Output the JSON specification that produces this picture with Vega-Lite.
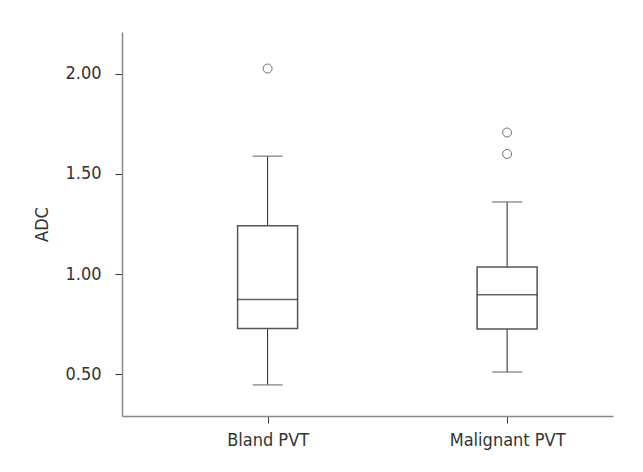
{
  "$schema": "https://vega.github.io/schema/vega-lite/v6.json",
  "width": 491,
  "height": 384,
  "autosize": "none",
  "padding": {"left": 122, "top": 32, "right": 30, "bottom": 56},
  "background": "white",
  "config": {
    "view": {"stroke": null},
    "font": "DejaVu Sans Condensed, DejaVu Sans, sans-serif",
    "axis": {
      "labelFont": "DejaVu Sans Condensed, DejaVu Sans, sans-serif",
      "titleFont": "DejaVu Sans Condensed, DejaVu Sans, sans-serif",
      "labelFontSize": 18,
      "titleFontSize": 18,
      "titleFontWeight": "normal",
      "labelColor": "#333",
      "titleColor": "#333",
      "domainColor": "#888",
      "domainWidth": 1.5,
      "tickColor": "#333",
      "tickWidth": 1,
      "tickSize": 7,
      "grid": false
    }
  },
  "datasets": {
    "boxes": [
      {"group": "Bland PVT", "lower": 0.448, "q1": 0.729, "median": 0.874, "q3": 1.241, "upper": 1.588},
      {"group": "Malignant PVT", "lower": 0.512, "q1": 0.727, "median": 0.897, "q3": 1.036, "upper": 1.36}
    ],
    "outliers": [
      {"group": "Bland PVT", "value": 2.025},
      {"group": "Malignant PVT", "value": 1.706},
      {"group": "Malignant PVT", "value": 1.599}
    ]
  },
  "encoding": {
    "x": {
      "field": "group",
      "type": "nominal",
      "scale": {"type": "point", "padding": 0.525, "align": 0.579},
      "axis": {"title": null, "labelAngle": 0, "labelPadding": 8}
    }
  },
  "layer": [
    {
      "data": {"name": "boxes"},
      "mark": {"type": "rule", "color": "#222", "strokeWidth": 1},
      "encoding": {
        "y": {
          "field": "lower",
          "type": "quantitative",
          "scale": {"domain": [0.293, 2.207], "nice": false, "zero": false},
          "axis": {"title": "ADC", "values": [0.5, 1, 1.5, 2], "format": ".2f", "labelPadding": 14, "titlePadding": 13}
        },
        "y2": {"field": "upper"}
      }
    },
    {
      "data": {"name": "boxes"},
      "mark": {"type": "bar", "size": 60, "fill": "white", "stroke": "#555", "strokeWidth": 1.5},
      "encoding": {
        "y": {"field": "q1", "type": "quantitative"},
        "y2": {"field": "q3"}
      }
    },
    {
      "data": {"name": "boxes"},
      "mark": {"type": "tick", "size": 60, "thickness": 1.5, "color": "#222"},
      "encoding": {"y": {"field": "median", "type": "quantitative"}}
    },
    {
      "data": {"name": "boxes"},
      "mark": {"type": "tick", "size": 30, "thickness": 1.5, "color": "#666"},
      "encoding": {"y": {"field": "lower", "type": "quantitative"}}
    },
    {
      "data": {"name": "boxes"},
      "mark": {"type": "tick", "size": 30, "thickness": 1.5, "color": "#666"},
      "encoding": {"y": {"field": "upper", "type": "quantitative"}}
    },
    {
      "data": {"name": "outliers"},
      "mark": {"type": "point", "shape": "circle", "size": 80, "filled": false, "stroke": "#333", "strokeWidth": 1},
      "encoding": {"y": {"field": "value", "type": "quantitative"}}
    }
  ]
}
